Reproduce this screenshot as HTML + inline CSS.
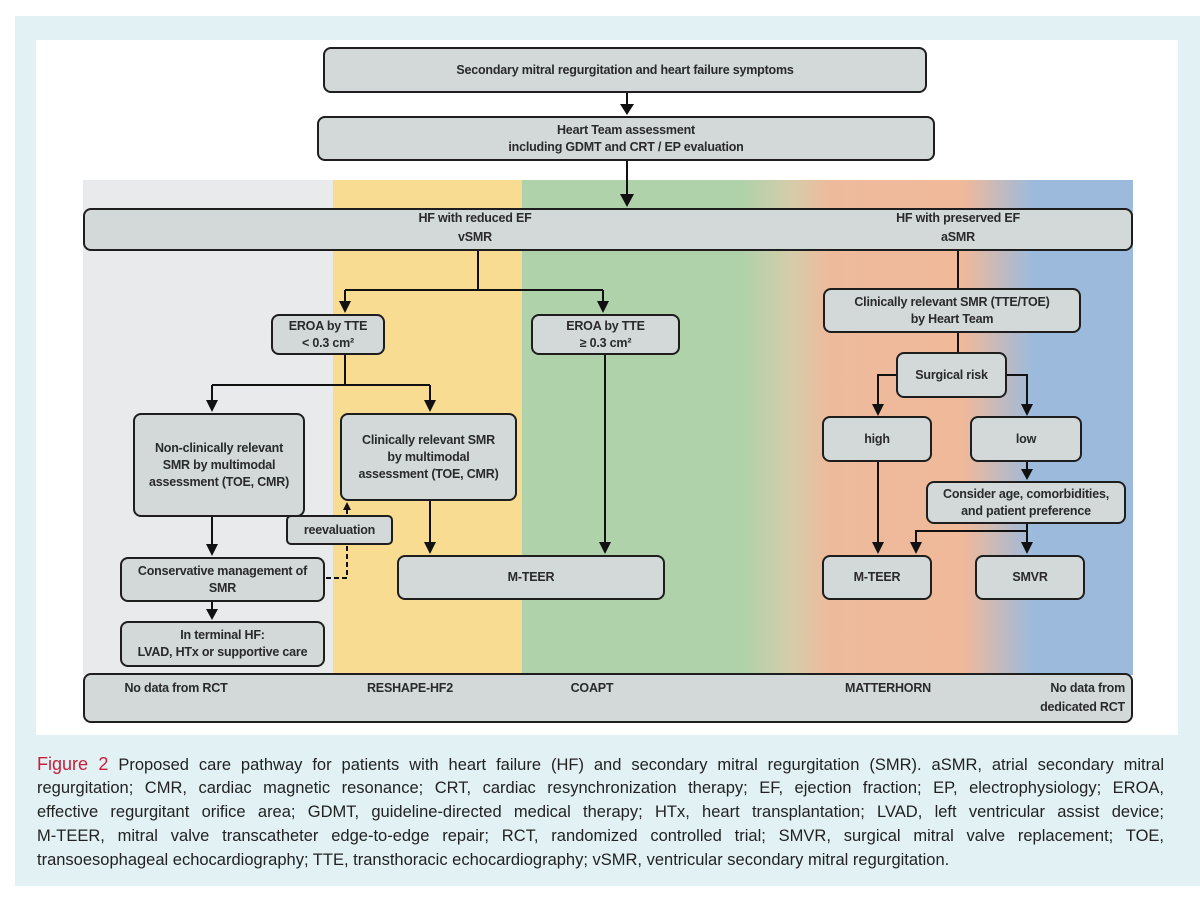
<!DOCTYPE html>
<html><head><meta charset="utf-8"><style>
*{margin:0;padding:0;box-sizing:border-box}
body{width:1200px;height:901px;background:#fff;position:relative;overflow:hidden;font-family:"Liberation Sans",sans-serif}
.outer{position:absolute;left:15px;top:16px;width:1185px;height:870px;background:#e2f1f4}
.white{position:absolute;left:36px;top:40px;width:1142px;height:695px;background:#fff}
.band{position:absolute;left:83px;top:180px;width:1050px;height:495px;
background:linear-gradient(to right,#e9eaeb 0px,#e9eaeb 250px,#f8dc92 250px,#f8dc92 439px,#b0d2aa 439px,#b0d2aa 660px,#d6ccaa 710px,#edbb9c 745px,#f0b99a 880px,#9cbbdc 950px,#9cbbdc 1050px)}
.b{position:absolute;background:#d3d8d8;border:2px solid #1e1e1e;border-radius:8px;display:flex;align-items:center;justify-content:center;text-align:center;font-weight:bold;font-size:12.5px;letter-spacing:-0.2px;line-height:17px;color:#2a2a2a}
.t{position:absolute;font-weight:bold;font-size:12.5px;letter-spacing:-0.2px;color:#2a2a2a;text-align:center;line-height:19px}
.cap{position:absolute;left:37px;width:1127px;font-size:16.5px;line-height:24px;color:#222;white-space:nowrap}
.j{text-align:justify;text-align-last:justify}
</style></head><body>
<div class="outer"></div>
<div class="white"></div>
<div class="band"></div>
<svg width="1200" height="901" style="position:absolute;left:0;top:0">
<g stroke="#111" stroke-width="2" fill="none">
<line x1="627" y1="93" x2="627" y2="105" />
<path d="M620,104 h14 l-7,11z" fill="#111" stroke="none"/>
<line x1="627" y1="161" x2="627" y2="195"/>
<path d="M620,194 h14 l-7,13z" fill="#111" stroke="none"/>
<line x1="478" y1="250" x2="478" y2="290"/>
<line x1="345" y1="290" x2="603" y2="290"/>
<line x1="345" y1="290" x2="345" y2="302"/><path d="M339,301 h12 l-6,12z" fill="#111" stroke="none"/>
<line x1="603" y1="290" x2="603" y2="302"/><path d="M597,301 h12 l-6,12z" fill="#111" stroke="none"/>
<line x1="345" y1="355" x2="345" y2="385"/>
<line x1="212" y1="385" x2="430" y2="385"/>
<line x1="212" y1="385" x2="212" y2="401"/><path d="M206,400 h12 l-6,12z" fill="#111" stroke="none"/>
<line x1="430" y1="385" x2="430" y2="401"/><path d="M424,400 h12 l-6,12z" fill="#111" stroke="none"/>
<line x1="212" y1="517" x2="212" y2="545"/><path d="M206,544 h12 l-6,12z" fill="#111" stroke="none"/>
<line x1="430" y1="501" x2="430" y2="543"/><path d="M424,542 h12 l-6,12z" fill="#111" stroke="none"/>
<line x1="605" y1="355" x2="605" y2="543"/><path d="M599,542 h12 l-6,12z" fill="#111" stroke="none"/>
<line x1="212" y1="602" x2="212" y2="610"/><path d="M206,609 h12 l-6,11z" fill="#111" stroke="none"/>
<path d="M326,578 H347 V546" stroke-dasharray="5,3"/>
<line x1="347" y1="514" x2="347" y2="508" stroke-dasharray="5,3"/>
<path d="M343,510 h8 l-4,-8z" fill="#111" stroke="none"/>
<line x1="958" y1="250" x2="958" y2="288"/>
<line x1="958" y1="333" x2="958" y2="352"/>
<path d="M896,375 H878 V405"/><path d="M872,404 h12 l-6,12z" fill="#111" stroke="none"/>
<path d="M1007,375 H1027 V405"/><path d="M1021,404 h12 l-6,12z" fill="#111" stroke="none"/>
<line x1="1027" y1="462" x2="1027" y2="470"/><path d="M1021,469 h12 l-6,11z" fill="#111" stroke="none"/>
<line x1="878" y1="462" x2="878" y2="543"/><path d="M872,542 h12 l-6,12z" fill="#111" stroke="none"/>
<line x1="1027" y1="524" x2="1027" y2="543"/><path d="M1021,542 h12 l-6,12z" fill="#111" stroke="none"/>
<path d="M1027,531 H916 V543"/><path d="M910,542 h12 l-6,12z" fill="#111" stroke="none"/>
</g></svg>
<div class="b" style="left:323px;top:47px;width:604px;height:46px">Secondary mitral regurgitation and heart failure symptoms</div>
<div class="b" style="left:317px;top:116px;width:618px;height:45px">Heart Team assessment<br>including GDMT and CRT / EP evaluation</div>
<div class="b" style="left:83px;top:208px;width:1050px;height:43px"></div>
<div class="t" style="left:375px;top:209px;width:200px">HF with reduced EF<br>vSMR</div>
<div class="t" style="left:858px;top:209px;width:200px">HF with preserved EF<br>aSMR</div>
<div class="b" style="left:271px;top:314px;width:114px;height:41px">EROA by TTE<br>&lt; 0.3 cm²</div>
<div class="b" style="left:531px;top:314px;width:149px;height:41px">EROA by TTE<br>≥ 0.3 cm²</div>
<div class="b" style="left:133px;top:413px;width:172px;height:104px">Non-clinically relevant<br>SMR by multimodal<br>assessment (TOE, CMR)</div>
<div class="b" style="left:340px;top:413px;width:177px;height:88px">Clinically relevant SMR<br>by multimodal<br>assessment (TOE, CMR)</div>
<div class="b" style="left:286px;top:515px;width:107px;height:30px;border-radius:5px">reevaluation</div>
<div class="b" style="left:120px;top:557px;width:205px;height:45px">Conservative management of<br>SMR</div>
<div class="b" style="left:120px;top:621px;width:205px;height:46px">In terminal HF:<br>LVAD, HTx or supportive care</div>
<div class="b" style="left:397px;top:555px;width:268px;height:45px">M-TEER</div>
<div class="b" style="left:823px;top:288px;width:258px;height:45px">Clinically relevant SMR (TTE/TOE)<br>by Heart Team</div>
<div class="b" style="left:896px;top:352px;width:111px;height:46px">Surgical risk</div>
<div class="b" style="left:822px;top:416px;width:110px;height:46px">high</div>
<div class="b" style="left:970px;top:416px;width:112px;height:46px">low</div>
<div class="b" style="left:926px;top:481px;width:200px;height:43px">Consider age, comorbidities,<br>and patient preference</div>
<div class="b" style="left:822px;top:555px;width:110px;height:45px">M-TEER</div>
<div class="b" style="left:975px;top:555px;width:110px;height:45px">SMVR</div>
<div class="b" style="left:83px;top:673px;width:1050px;height:50px"></div>
<div class="t" style="left:96px;top:679px;width:160px">No data from RCT</div>
<div class="t" style="left:340px;top:679px;width:140px">RESHAPE-HF2</div>
<div class="t" style="left:542px;top:679px;width:100px">COAPT</div>
<div class="t" style="left:828px;top:679px;width:120px">MATTERHORN</div>
<div class="t" style="left:1005px;top:679px;width:120px;text-align:right">No data from<br>dedicated RCT</div>
<div class="cap j" style="top:752px"><span style="color:#c8203a;font-size:18px">Figure 2</span> Proposed care pathway for patients with heart failure (HF) and secondary mitral regurgitation (SMR). aSMR, atrial secondary mitral</div>
<div class="cap j" style="top:776px">regurgitation; CMR, cardiac magnetic resonance; CRT, cardiac resynchronization therapy; EF, ejection fraction; EP, electrophysiology; EROA,</div>
<div class="cap j" style="top:800px">effective regurgitant orifice area; GDMT, guideline-directed medical therapy; HTx, heart transplantation; LVAD, left ventricular assist device;</div>
<div class="cap j" style="top:824px">M-TEER, mitral valve transcatheter edge-to-edge repair; RCT, randomized controlled trial; SMVR, surgical mitral valve replacement; TOE,</div>
<div class="cap" style="top:848px">transoesophageal echocardiography; TTE, transthoracic echocardiography; vSMR, ventricular secondary mitral regurgitation.</div>
</body></html>
